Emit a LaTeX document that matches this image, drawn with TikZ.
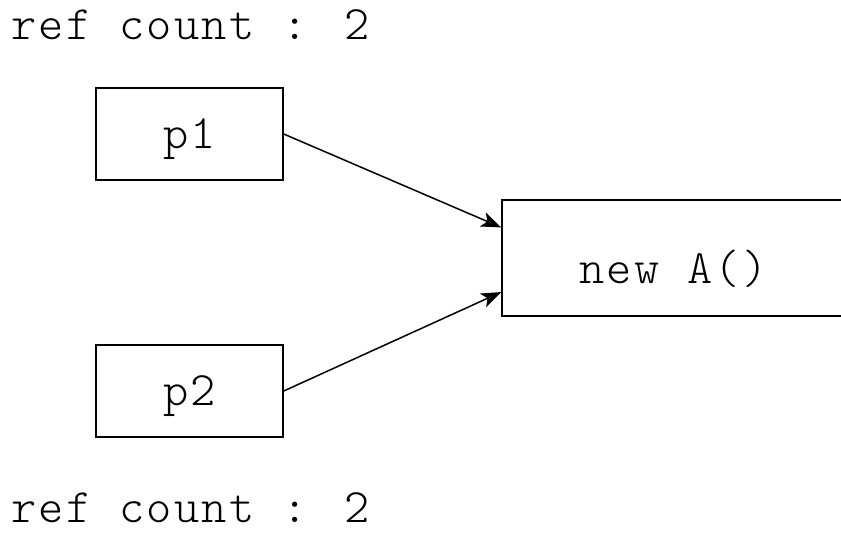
\documentclass[tikz,border=0pt]{standalone}
\usepackage{fontspec}
\newfontfamily\refmono[LetterSpace=5]{lmmonolt10-regular.otf}
\usepackage{tikz}
\usetikzlibrary{arrows.meta, positioning, calc}

\tikzset{
  refbox/.style={draw=black, line width=1.5pt, fill=white, inner sep=0pt,
                 font=\refmono\fontsize{48}{52}\selectfont},
  reflabel/.style={inner sep=0pt, anchor=base west,
                   font=\refmono\fontsize{48}{52}\selectfont},
  refarrow/.style={line width=1.5pt, -{Stealth[length=20pt, width=15pt, inset=5pt]}}
}

\begin{document}
\begin{tikzpicture}[x=1pt, y=-1pt]

    \useasboundingbox (0,0) rectangle (841,535);
    \clip (0,0) rectangle (841,535);

    % Counters
    \node[reflabel] (counttop) at (11, 40) {ref count : 2};
    \node[reflabel] (countbot) at (11, 522) {ref count : 2};

    % Pointers
    \node[refbox, minimum width=187pt, minimum height=92pt,
          text height=28pt, text depth=0pt] (p1) at (189.5, 134) {p1};
    \node[refbox, minimum width=187pt, minimum height=92pt,
          text height=28pt, text depth=0pt] (p2) at (189.5, 391) {p2};

    % Object
    \node[refbox, minimum width=343pt, minimum height=116pt,
          text height=50pt, text depth=0pt] (obj) at (673.5, 258) {new A()};

    % References
    \draw[refarrow] (p1.east) -- ($(obj.north west)!0.24!(obj.south west)$);
    \draw[refarrow] (p2.east) -- ($(obj.north west)!0.79!(obj.south west)$);

  \end{tikzpicture}
\end{document}
